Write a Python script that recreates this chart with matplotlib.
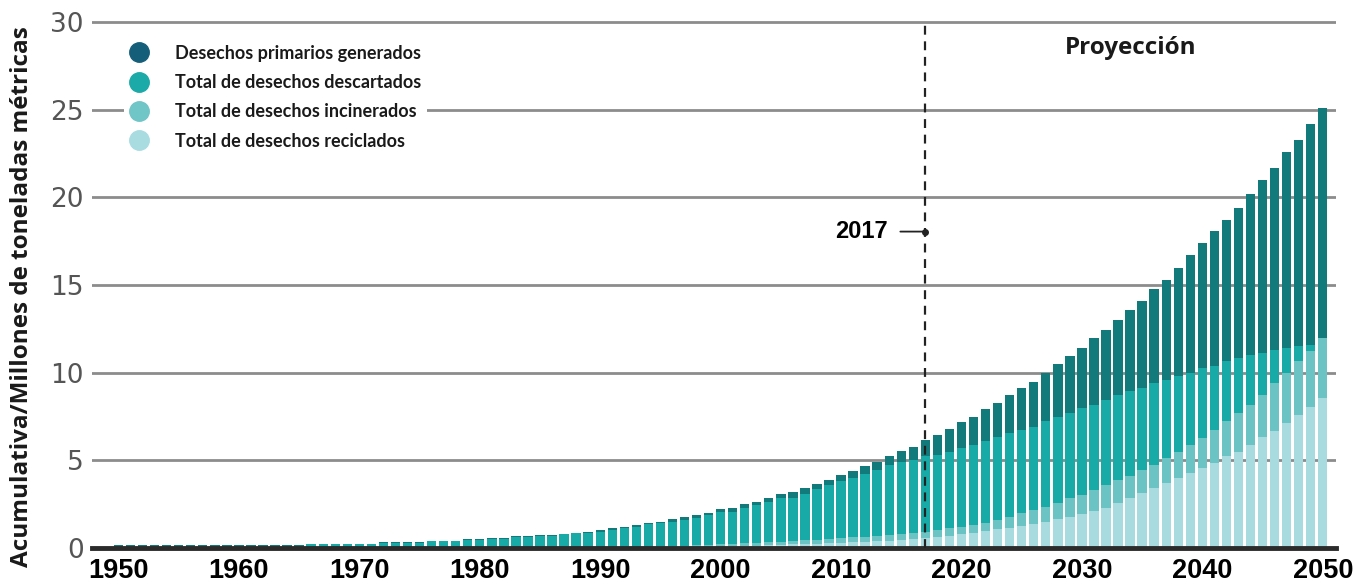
import matplotlib.pyplot as plt
from matplotlib.lines import Line2D

# años 1950-2050, valores acumulados
years = list(range(1950, 2051))

# altura total de cada barra (desechos primarios generados)
total = [
    0.15, 0.15, 0.15, 0.15, 0.15, 0.15, 0.15, 0.15, 0.15, 0.15,
    0.15, 0.15, 0.15, 0.15, 0.15, 0.15, 0.24, 0.24, 0.24, 0.24,
    0.24, 0.24, 0.33, 0.33, 0.33, 0.33, 0.42, 0.42, 0.42, 0.50,
    0.50, 0.58, 0.58, 0.66, 0.66, 0.75, 0.75, 0.82, 0.88, 0.93,
    1.03, 1.12, 1.22, 1.31, 1.45, 1.50, 1.64, 1.75, 1.87, 2.02,
    2.21, 2.30, 2.51, 2.65, 2.84, 3.07, 3.18, 3.41, 3.66, 3.89,
    4.17, 4.42, 4.65, 4.88, 5.26, 5.56, 5.79, 6.17, 6.46, 6.80,
    7.16, 7.50, 7.92, 8.27, 8.70, 9.12, 9.47, 9.98, 10.49, 10.93,
    11.41, 11.98, 12.46, 13.03, 13.55, 14.10, 14.80, 15.30, 16.00, 16.70,
    17.40, 18.10, 18.70, 19.40, 20.20, 21.00, 21.70, 22.60, 23.30, 24.20,
    25.10,
]

# tope del tramo "descartados"
descartados = [
    0.08, 0.08, 0.08, 0.08, 0.08, 0.08, 0.08, 0.08, 0.08, 0.08,
    0.08, 0.08, 0.08, 0.08, 0.08, 0.08, 0.20, 0.20, 0.20, 0.20,
    0.20, 0.20, 0.29, 0.29, 0.29, 0.29, 0.38, 0.38, 0.38, 0.46,
    0.46, 0.54, 0.54, 0.62, 0.62, 0.71, 0.71, 0.78, 0.84, 0.83,
    0.93, 1.02, 1.12, 1.21, 1.35, 1.40, 1.49, 1.60, 1.72, 1.87,
    2.06, 2.08, 2.29, 2.43, 2.62, 2.85, 2.86, 3.09, 3.34, 3.57,
    3.85, 3.97, 4.20, 4.43, 4.71, 4.91, 5.04, 5.22, 5.32, 5.50,
    5.70, 5.89, 6.13, 6.36, 6.55, 6.74, 6.93, 7.22, 7.50, 7.70,
    7.98, 8.17, 8.46, 8.74, 8.93, 9.12, 9.41, 9.60, 9.79, 9.98,
    10.27, 10.36, 10.65, 10.84, 11.03, 11.12, 11.31, 11.41, 11.50, 11.60,
    11.98,
]

# tope del tramo "incinerados"
incinerados = [
    0, 0, 0, 0, 0, 0, 0, 0, 0, 0,
    0, 0, 0, 0, 0, 0, 0, 0, 0, 0,
    0, 0, 0, 0, 0, 0, 0, 0, 0, 0,
    0, 0, 0, 0, 0, 0, 0, 0, 0, 0,
    0.03, 0.04, 0.05, 0.06, 0.08, 0.10, 0.12, 0.14, 0.16, 0.18,
    0.20, 0.23, 0.26, 0.29, 0.32, 0.36, 0.40, 0.44, 0.48, 0.52,
    0.56, 0.60, 0.65, 0.70, 0.75, 0.80, 0.86, 0.93, 1.03, 1.12,
    1.22, 1.31, 1.45, 1.60, 1.79, 1.98, 2.17, 2.36, 2.55, 2.84,
    3.03, 3.31, 3.60, 3.89, 4.10, 4.46, 4.74, 5.12, 5.50, 5.89,
    6.27, 6.74, 7.22, 7.70, 8.17, 8.74, 9.41, 9.98, 10.65, 11.22,
    11.98,
]

# tope del tramo "reciclados"
reciclados = [
    0, 0, 0, 0, 0, 0, 0, 0, 0, 0,
    0, 0, 0, 0, 0, 0, 0, 0, 0, 0,
    0, 0, 0, 0, 0, 0, 0, 0, 0, 0,
    0, 0, 0, 0, 0, 0, 0, 0, 0, 0,
    0, 0, 0, 0, 0, 0.02, 0.03, 0.04, 0.05, 0.06,
    0.08, 0.10, 0.12, 0.14, 0.16, 0.18, 0.20, 0.22, 0.24, 0.27,
    0.30, 0.33, 0.36, 0.39, 0.42, 0.46, 0.50, 0.55, 0.65, 0.70,
    0.78, 0.88, 0.97, 1.07, 1.16, 1.27, 1.39, 1.50, 1.64, 1.79,
    1.94, 2.11, 2.30, 2.55, 2.88, 3.12, 3.41, 3.70, 3.98, 4.27,
    4.55, 4.84, 5.22, 5.50, 5.89, 6.36, 6.65, 7.12, 7.60, 8.07,
    8.55,
]

labels = ["Desechos primarios generados", "Total de desechos descartados",
          "Total de desechos incinerados", "Total de desechos reciclados"]
bar_colors = ["#137A7B", "#18AAA7", "#6CC3C3", "#A7DBDF"]
dot_colors = ["#155E7A", "#1BAAA7", "#70C5C6", "#A9DCE1"]

fig = plt.figure(figsize=(13.65, 5.87), dpi=100)
ax = fig.add_axes([92 / 1365, 39 / 587, 1244 / 1365, 529.4 / 587])

for serie, col in zip([total, descartados, incinerados, reciclados], bar_colors):
    ax.bar(years, serie, width=0.78, color=col, linewidth=0, zorder=2)

ax.set_xlim(1947.8, 2051.1)
ax.set_ylim(0, 30.2)
ax.set_yticks(range(0, 31, 5))
ax.set_xticks(range(1950, 2051, 10))
ax.yaxis.grid(True, color="#8c8c8c", lw=2)
ax.set_axisbelow(True)
for s in ["top", "right", "left"]:
    ax.spines[s].set_visible(False)
ax.spines["bottom"].set_color("#2b2b2b")
ax.spines["bottom"].set_linewidth(3.5)
ax.spines["bottom"].set_zorder(3)

ax.tick_params(axis="y", length=0, pad=6, labelsize=19, labelcolor="#555555")
ax.tick_params(axis="x", length=0, pad=7, labelsize=19.5)
for t in ax.get_yticklabels():
    t.set_family(["Liberation Sans Narrow", "DejaVu Sans"])
for t in ax.get_xticklabels():
    t.set_family(["Liberation Sans", "DejaVu Sans"])
    t.set_fontweight("bold")

# línea de 2017
ax.axvline(2017, ymax=30 / 30.2, color="#222222", ls=(0, (4, 3)), lw=1.6, zorder=4)
ax.annotate("2017", xy=(2017, 18.05), xytext=(-27, 0), textcoords="offset points",
            ha="right", va="center", fontsize=17, fontweight="bold",
            family=["Liberation Sans", "DejaVu Sans"],
            arrowprops=dict(arrowstyle="-", color="#222222", lw=1.3, shrinkA=7, shrinkB=0))
ax.plot([2017], [18.05], "o", color="#222222", ms=4, zorder=5)

ax.text(2034.05, 28.55, "Proyección", ha="center", va="center", fontsize=17.5,
        fontweight="bold", family=["Open Sans", "DejaVu Sans"], color="#1a1a1a")

handles = [Line2D([], [], marker="o", ls="none", ms=14, color=c) for c in dot_colors]
leg = fig.legend(handles, labels, loc="upper left", bbox_to_anchor=(0.0912, 0.9330),
                 borderaxespad=0, borderpad=0.3, handlelength=1.0, handletextpad=1.5,
                 labelspacing=0.68, frameon=True, fancybox=False,
                 prop={"family": ["Lato", "DejaVu Sans"], "weight": "bold", "size": 13})
leg.get_frame().set_facecolor("white")
leg.get_frame().set_edgecolor("none")
leg.get_frame().set_alpha(1)
for t in leg.get_texts():
    t.set_color("#1a1a1a")

fig.text(0.016, 0.494, "Acumulativa/Millones de toneladas métricas", rotation=90,
         ha="center", va="center", fontsize=17.5, fontweight="bold",
         family=["Open Sans", "DejaVu Sans"], color="#1a1a1a")

fig.savefig("out.png", dpi=100)
